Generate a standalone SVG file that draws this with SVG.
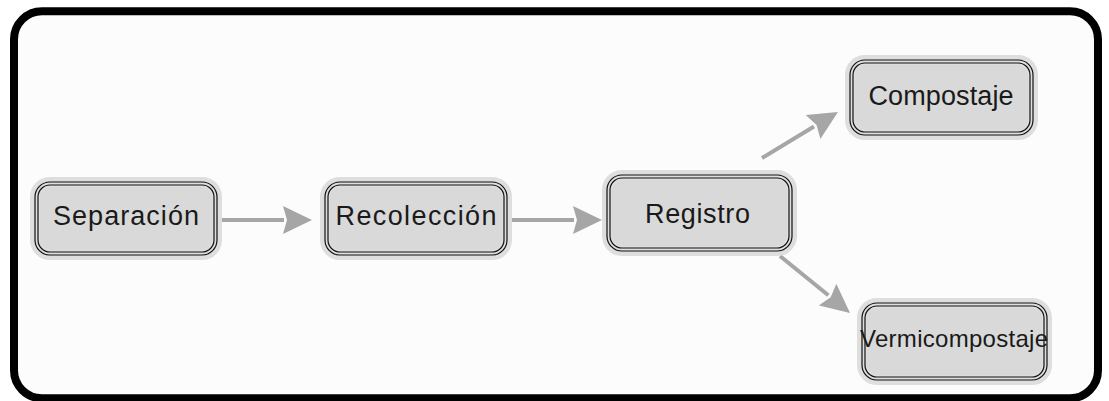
<svg xmlns="http://www.w3.org/2000/svg" width="1109" height="401" viewBox="0 0 1109 401">
  <defs>
    <style>
      .halo { fill: #d9d9d9; stroke: #dedede; stroke-width: 10; }
      .b1 { fill: none; stroke: #111; stroke-width: 1.2; }
      .lbl { font-family: "Liberation Sans", Arial, sans-serif; font-size: 27px; fill: #1a1a1a; text-anchor: middle; }
      .edge { stroke: #a6a6a6; stroke-width: 4; fill: none; }
    </style>
    <marker id="ah" markerUnits="userSpaceOnUse" markerWidth="30" markerHeight="28" refX="1" refY="14" orient="auto">
      <path d="M0,0 L29,14 L0,28 L4,14 z" fill="#a6a6a6"/>
    </marker>
  </defs>
  <rect x="0" y="0" width="1109" height="401" fill="#ffffff"/>
  <rect x="14" y="11.3" width="1084" height="387" rx="28" ry="28" fill="#fcfcfc" stroke="#000" stroke-width="8"/>

  <g id="connectors">
    <line class="edge" x1="222" y1="220" x2="284" y2="220" marker-end="url(#ah)"/>
    <line class="edge" x1="512" y1="220" x2="574" y2="220" marker-end="url(#ah)"/>
    <line class="edge" x1="762" y1="158" x2="814" y2="126.5" marker-end="url(#ah)"/>
    <line class="edge" x1="780" y1="256" x2="828.3" y2="295.3" marker-end="url(#ah)"/>
  </g>

  <g id="separacion">
    <rect class="halo" x="35" y="182" width="182" height="73" rx="15"/>
    <rect class="b1" x="35" y="182" width="182" height="73" rx="15"/>
    <rect class="b1" x="38" y="185" width="176" height="67" rx="12"/>
    <text class="lbl" x="126" y="225" textLength="146">Separación</text>
  </g>

  <g id="recoleccion">
    <rect class="halo" x="325" y="182" width="182" height="73" rx="15"/>
    <rect class="b1" x="325" y="182" width="182" height="73" rx="15"/>
    <rect class="b1" x="328" y="185" width="176" height="67" rx="12"/>
    <text class="lbl" x="416" y="225" textLength="161">Recolección</text>
  </g>

  <g id="registro">
    <rect class="halo" x="607" y="175" width="185" height="76" rx="15"/>
    <rect class="b1" x="607" y="175" width="185" height="76" rx="15"/>
    <rect class="b1" x="610" y="178" width="179" height="70" rx="12"/>
    <text class="lbl" x="697.5" y="223" textLength="105">Registro</text>
  </g>

  <g id="compostaje">
    <rect class="halo" x="850" y="60" width="183" height="75" rx="15"/>
    <rect class="b1" x="850" y="60" width="183" height="75" rx="15"/>
    <rect class="b1" x="853" y="63" width="177" height="69" rx="12"/>
    <text class="lbl" x="941" y="105" textLength="145">Compostaje</text>
  </g>

  <g id="vermicompostaje">
    <rect class="halo" x="862" y="303" width="185" height="77" rx="15"/>
    <rect class="b1" x="862" y="303" width="185" height="77" rx="15"/>
    <rect class="b1" x="865" y="306" width="179" height="71" rx="12"/>
    <text class="lbl" x="954" y="347" style="font-size:24px" textLength="188">Vermicompostaje</text>
  </g>
</svg>
